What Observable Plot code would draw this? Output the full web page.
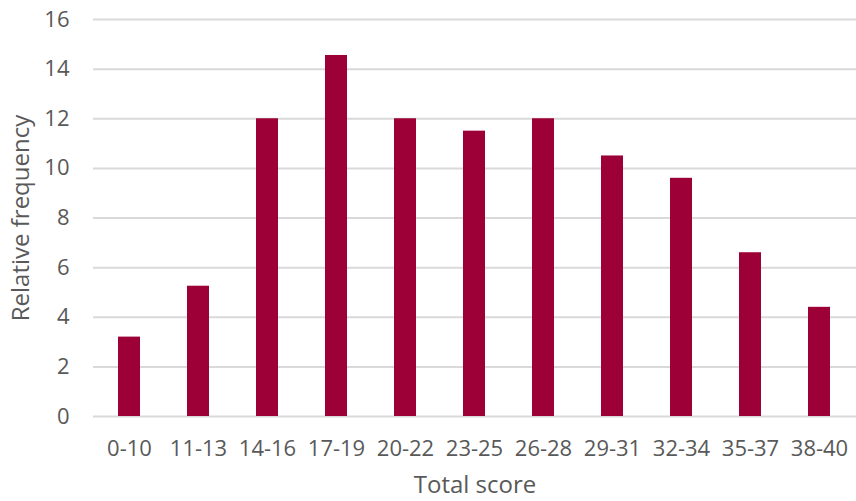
<!DOCTYPE html>
<html>
<head>
<meta charset="utf-8">
<script src="https://cdn.jsdelivr.net/npm/d3@7"></script>
<script src="https://cdn.jsdelivr.net/npm/@observablehq/plot@0.6"></script>
<style>
  html, body { margin: 0; padding: 0; background: #fff; }
  #chart svg { display: block; }
</style>
</head>
<body>
<div id="chart"></div>
<script>
const categories = ["0-10", "11-13", "14-16", "17-19", "20-22", "23-25", "26-28", "29-31", "32-34", "35-37", "38-40"];
const values = [3.2, 5.25, 12, 14.55, 12, 11.5, 12, 10.5, 9.6, 6.6, 4.4];
const yTicks = [0, 2, 4, 6, 8, 10, 12, 14, 16];

const data = categories.map((c, i) => ({category: c, value: values[i]}));

const chart = Plot.plot({
  width: 856,
  height: 501,
  marginLeft: 93,
  marginRight: 0,
  marginTop: 19,
  marginBottom: 85,
  style: {fontFamily: "'Open Sans', sans-serif", fontSize: "22px", color: "#595959", background: "#fff"},
  x: {domain: categories, paddingInner: 0.68, paddingOuter: 0.34, label: null},
  y: {domain: [0, 16], label: null},
  marks: [
    Plot.ruleY(yTicks, {stroke: "#d9d9d9", strokeWidth: 2}),
    Plot.barY(data, {x: "category", y: "value", fill: "#9C0036"}),
    Plot.axisX({tickSize: 0, tickPadding: 24, fontSize: 22, fill: "#595959", label: null}),
    Plot.axisX({ticks: [], tickSize: 0, fontSize: 24, fill: "#595959",
      label: "Total score", labelAnchor: "center", labelOffset: 76, labelArrow: "none"}),
    Plot.axisY({ticks: yTicks, tickSize: 0, tickPadding: 24, fontSize: 22, fill: "#595959", label: null}),
    Plot.axisY({ticks: [], tickSize: 0, fontSize: 24, fill: "#595959",
      label: "Relative frequency", labelAnchor: "center", labelOffset: 82, labelArrow: "none"})
  ]
});
document.getElementById("chart").appendChild(chart);
</script>
</body>
</html>
